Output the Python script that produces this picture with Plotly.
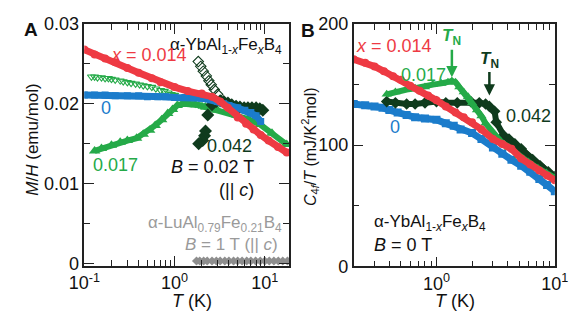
import math
import plotly.graph_objects as go

# ---------------- Panel A: M/H versus T ----------------
# x = 0 (squares)
a_T_x0 = [0.1, 0.13, 0.17, 0.22, 0.3, 0.4, 0.5, 0.65, 0.8, 1.0, 1.3, 1.6, 2.0, 2.5, 3.0, 3.5, 4.0, 5.0, 6.0, 7.0, 8.0, 9.0]
a_M_x0 = [0.0211, 0.0211, 0.0211, 0.0210, 0.0210, 0.0210, 0.0209, 0.0209, 0.0209, 0.0208, 0.0208, 0.0208, 0.0207,
          0.0205, 0.0203, 0.0200, 0.0198, 0.0195, 0.0192, 0.0189, 0.0185, 0.0178]
# x = 0.014 (circles)
a_T_x014 = [0.1, 0.13, 0.17, 0.22, 0.3, 0.4, 0.56, 0.7, 1.0, 1.4, 2.0, 2.6, 3.2, 3.9, 5.0, 6.2, 7.5, 9.0, 11.0, 14.0, 17.5]
a_M_x014 = [0.0268, 0.0262, 0.0257, 0.0252, 0.0245, 0.0239, 0.0232, 0.0227, 0.0221, 0.0216, 0.0213, 0.0209, 0.0203,
            0.0195, 0.0183, 0.0175, 0.0168, 0.0161, 0.0154, 0.0146, 0.0139]
# x = 0.017, filled triangles
a_T_x017 = [0.13, 0.155, 0.2, 0.25, 0.3, 0.38, 0.45, 0.53, 0.61, 0.72, 0.84, 0.95, 1.07, 1.25, 1.4, 1.7, 2.2, 3.0,
            4.0, 4.9, 6.5, 8.9, 12.0, 17.5]
a_M_x017 = [0.0141, 0.0144, 0.0148, 0.0152, 0.0154, 0.0157, 0.0162, 0.0167, 0.0173, 0.0180, 0.0188, 0.0193, 0.0198,
            0.0200, 0.0200, 0.0199, 0.0196, 0.0192, 0.0189, 0.0186, 0.0181, 0.0174, 0.0163, 0.0149]
# x = 0.017, open triangles
a_T_x017o = [0.12, 0.13, 0.14, 0.155, 0.17, 0.185, 0.2, 0.22, 0.25, 0.27, 0.3, 0.33, 0.37, 0.41, 0.45, 0.5, 0.56,
             0.62, 0.7, 0.77, 0.85, 0.92, 1.0, 1.1, 1.2, 1.3, 1.4, 1.55, 1.7, 1.85, 2.0]
a_M_x017o = [0.0234, 0.0234, 0.0233, 0.0233, 0.0232, 0.0232, 0.0231, 0.0230, 0.0229, 0.0228, 0.0227, 0.0226,
             0.0225, 0.0224, 0.0223, 0.0222, 0.0221, 0.0219, 0.0217, 0.0216, 0.0214, 0.0212, 0.0211, 0.0208,
             0.0206, 0.0204, 0.0203, 0.0201, 0.0200, 0.0199, 0.0198]
# x = 0.042, filled diamonds
a_T_x042 = [1.85, 2.05, 2.15, 2.2, 2.33, 2.6, 2.9, 3.2, 3.5, 3.9, 4.3, 4.8, 5.3, 5.9, 6.5, 7.2, 8.0, 8.8, 9.5]
a_M_x042 = [0.0150, 0.0154, 0.0160, 0.0166, 0.0186, 0.0199, 0.0203, 0.0204, 0.0203, 0.0201, 0.0199, 0.0197, 0.0196,
            0.0195, 0.0195, 0.0195, 0.0195, 0.0194, 0.0192]
# x = 0.042, open diamonds
a_T_x042o = [1.83, 1.95, 2.08, 2.25, 2.4, 2.55, 2.75, 3.0]
a_M_x042o = [0.0253, 0.0247, 0.0241, 0.0235, 0.0229, 0.0224, 0.0218, 0.0212]
# alpha-LuAl0.79Fe0.21B4 reference, B = 1 T
a_T_lu = [1.75, 1.9, 2.1, 2.3, 2.6, 2.9, 3.2, 3.6, 4.0, 4.5, 5.0, 5.6, 6.3, 7.0, 7.9, 8.9, 10.0, 11.2, 12.6, 14.1,
          15.8, 17.8]
a_M_lu = [0.0003, 0.0003, 0.0003, 0.0003, 0.0003, 0.0003, 0.0003, 0.0003, 0.0003, 0.0003, 0.0003, 0.0003, 0.0003,
          0.0003, 0.0003, 0.0003, 0.0003, 0.0003, 0.0003, 0.0003, 0.0003, 0.0003]

# ---------------- Panel B: C4f/T versus T ----------------
b_T_x0 = [0.2, 0.25, 0.3, 0.35, 0.4, 0.47, 0.56, 0.66, 0.8, 1.0, 1.2, 1.4, 1.6, 2.0, 2.4, 3.0, 3.6, 4.3, 5.2, 6.2,
          7.4, 8.6, 10.0]
b_C_x0 = [134, 133, 132, 131, 129, 127, 125, 123, 122, 121, 118, 116, 113, 110, 105, 98, 93, 88, 83, 78, 72, 67, 62]
b_T_x014 = [0.2, 0.25, 0.3, 0.36, 0.43, 0.5, 0.6, 0.72, 0.85, 1.0, 1.2, 1.45, 1.7, 2.0, 2.4, 3.0, 3.6, 4.3, 5.2, 6.2,
            7.4, 8.6, 10.0]
b_C_x014 = [171, 168, 165, 161, 157, 154, 149, 145, 141, 137, 132, 127, 123, 119, 113, 105, 101, 97, 89, 84, 79, 75, 71]
b_T_x017 = [0.38, 0.45, 0.56, 0.66, 0.8, 0.93, 1.1, 1.25, 1.35, 1.45, 1.56, 1.7, 1.85, 2.0, 2.2, 2.4, 2.6, 3.0, 3.5,
            4.1, 5.0, 6.0, 7.2, 8.5, 10.0]
b_C_x017 = [142, 144, 146, 147, 148, 150, 151, 152, 153, 152, 148, 144, 140, 135, 129, 124, 118, 110, 103, 98, 91, 86,
            81, 77, 73]
b_T_x042 = [0.38, 0.45, 0.56, 0.66, 0.8, 1.0, 1.2, 1.5, 1.95, 2.3, 2.6, 2.8, 3.1, 3.2, 3.7, 4.1, 4.6, 5.2, 5.6, 6.5,
            7.5, 8.8, 10.0]
b_C_x042 = [136, 135, 134, 134, 135, 136, 135, 135, 136, 135, 134, 132, 128, 119, 108, 105, 101, 97, 93, 88, 83, 78, 74]

# Neel temperatures marked with arrows
tn_T = [1.35, 2.8]
tn_C = [156, 141]

RED = "#ee3a43"
BLUE = "#1b7ccb"
GREEN = "#25aa48"
DKGREEN = "#0f3b1d"
GRAY = "#8e8e8e"
FONT = "Liberation Sans, Arial, sans-serif"

W, H = 584, 326


def px(x):
    return x / W


def py(y):
    return 1 - y / H


fig = go.Figure()


def add(x, y, color, symbol, size, xa, ya, line_w=0, open_marker=False):
    mode = "lines+markers" if line_w else "markers"
    marker = dict(symbol=symbol, size=size, color=color)
    if open_marker:
        marker["line"] = dict(color=color, width=1.1)
    else:
        marker["line"] = dict(width=0)
    fig.add_trace(go.Scatter(x=x, y=y, mode=mode, marker=marker,
                             line=dict(color=color, width=line_w),
                             xaxis=xa, yaxis=ya, showlegend=False, hoverinfo="skip"))


# panel A traces
add(a_T_lu, a_M_lu, GRAY, "diamond", 7, "x", "y", line_w=3)
add(a_T_x017, a_M_x017, GREEN, "triangle-up", 10, "x", "y", line_w=6)
add(a_T_x017o, a_M_x017o, GREEN, "triangle-down-open", 7, "x", "y", open_marker=True)
add(a_T_x042o, a_M_x042o, DKGREEN, "diamond-open", 8, "x", "y", open_marker=True)
add(a_T_x042, a_M_x042, DKGREEN, "diamond", 10, "x", "y")
add(a_T_x0, a_M_x0, BLUE, "square", 7, "x", "y", line_w=7)
add(a_T_x014, a_M_x014, RED, "circle", 8, "x", "y", line_w=7)

# panel B traces
add(b_T_x0, b_C_x0, BLUE, "square", 8, "x2", "y2", line_w=7)
add(b_T_x042, b_C_x042, DKGREEN, "diamond", 9, "x2", "y2", line_w=6)
add(b_T_x017, b_C_x017, GREEN, "triangle-up", 9, "x2", "y2", line_w=6)
add(b_T_x014, b_C_x014, RED, "circle", 8, "x2", "y2", line_w=7)

axis_common = dict(showline=True, linecolor="#222", linewidth=1.5, mirror="ticks", ticks="inside",
                   ticklen=10, tickwidth=1.4, tickcolor="#222", showgrid=False, zeroline=False,
                   tickfont=dict(family=FONT, size=18, color="#111"))
minor_log = [0.2, 0.3, 0.4, 0.5, 0.6, 0.7, 0.8, 0.9, 2, 3, 4, 5, 6, 7, 8, 9]

fig.update_layout(
    width=W, height=H, autosize=False,
    margin=dict(l=0, r=0, t=0, b=0),
    paper_bgcolor="white", plot_bgcolor="white",
    font=dict(family=FONT, color="#111"),
    xaxis=dict(type="log", range=[-1, 1.27], domain=[px(72), px(288)], anchor="y",
               tickvals=[0.1, 1, 10], ticktext=["10<sup>-1</sup>", "10<sup>0</sup>", "10<sup>1</sup>"],
               minor=dict(ticks="inside", ticklen=6, tickwidth=1.2, tickcolor="#222", tickvals=minor_log),
               **axis_common),
    yaxis=dict(range=[-0.0003, 0.03], domain=[py(272.5), py(15)], anchor="x",
               tickvals=[0, 0.01, 0.02, 0.03], ticktext=["0", "0.01", "0.02", "0.03"],
               minor=dict(ticks="inside", ticklen=6, tickwidth=1.2, tickcolor="#222",
                          tickvals=[0.005, 0.015, 0.025]),
               **axis_common),
    xaxis2=dict(type="log", range=[math.log10(0.2), 1], domain=[px(356), px(568)], anchor="y2",
                tickvals=[1, 10], ticktext=["10<sup>0</sup>", "10<sup>1</sup>"],
                minor=dict(ticks="inside", ticklen=6, tickwidth=1.2, tickcolor="#222", tickvals=minor_log),
                **axis_common),
    yaxis2=dict(range=[0, 200], domain=[py(273), py(15)], anchor="x2",
                tickvals=[0, 100, 200], ticktext=["0", "100", "200"],
                minor=dict(ticks="inside", ticklen=6, tickwidth=1.2, tickcolor="#222", tickvals=[50, 150]),
                **axis_common),
)


def label(x, y, text, color="#111", size=17, xanchor="center", yanchor="middle", angle=0):
    fig.add_annotation(x=px(x), y=py(y), xref="paper", yref="paper", text=text, showarrow=False,
                       xanchor=xanchor, yanchor=yanchor, textangle=angle,
                       font=dict(family=FONT, size=size, color=color))


FORMULA = "α-YbAl<sub>1-<i>x</i></sub>Fe<sub><i>x</i></sub>B<sub>4</sub>"

# panel A labels
label(16, 21, "<b>A</b>", size=19)
label(17, 138, "<i>M</i>/<i>H</i> (emu/mol)", size=17, angle=-90)
label(186, 310, "<i>T</i> (K)", size=18)
label(283, 38, FORMULA, xanchor="right")
label(140, 48, "<i>x</i> = 0.014", color=RED, size=18)
label(95, 104, "0", color=BLUE, size=18)
label(105, 165, "0.017", color=GREEN, size=18)
label(225, 145, "0.042", color=DKGREEN, size=18)
label(207, 167, "<i>B</i> = 0.02 T", size=18)
label(232, 192, "(|| <i>c</i>)", size=18)
label(282, 228, "α-LuAl<sub>0.79</sub>Fe<sub>0.21</sub>B<sub>4</sub>", color="#9a9a9a", size=17, xanchor="right")
label(278, 250, "<i>B</i> = 1 T (|| <i>c</i>)", color="#9a9a9a", size=17, xanchor="right")

# panel B labels
label(308, 22, "<b>B</b>", size=19)
label(310, 146, "<i>C</i><sub>4<i>f</i></sub>/<i>T</i> (mJ/K<sup>2</sup>mol)", size=16, angle=-90)
label(463, 310, "<i>T</i> (K)", size=18)
label(398, 38, "<i>x</i> = 0.014", color=RED, size=18)
label(430, 69, "0.017", color=GREEN, size=18)
label(540, 113, "0.042", color=DKGREEN, size=18)
label(400, 125, "0", color=BLUE, size=18)
label(375, 227, FORMULA, xanchor="left")
label(375, 250, "<i>B</i> = 0 T", xanchor="left", size=18)

# T_N arrows
for t, c, col, ay in zip(tn_T, tn_C, [GREEN, DKGREEN], [-40, -36]):
    fig.add_annotation(x=math.log10(t), y=c, xref="x2", yref="y2",
                       text="<b><i>T</i><sub>N</sub></b>", showarrow=True,
                       ax=0, ay=ay, arrowhead=2, arrowsize=0.9, arrowwidth=2.5, arrowcolor=col,
                       font=dict(family=FONT, size=17, color=col))

fig.write_html("out.html")
